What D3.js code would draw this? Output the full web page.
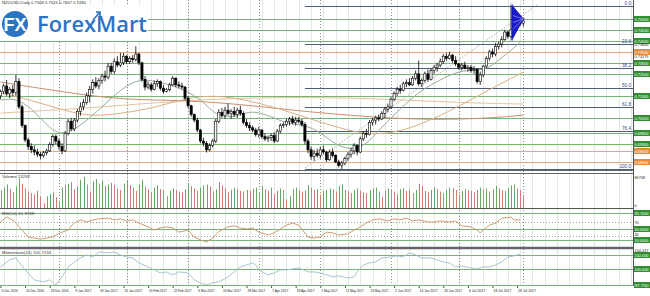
<!DOCTYPE html>
<html>
<head>
<meta charset="utf-8">
<script src="https://cdn.jsdelivr.net/npm/d3@7"></script>
<style>
  body { margin: 0; background: #fff; }
  svg { display: block; font-family: "Liberation Sans", Arial, sans-serif; }
</style>
</head>
<body>
<div id="chart"></div>
<script>
// Candles, daily NZDUSD
let opens = [.7150,.7170,.7195,.7160,.7180,.7165,.7215,.7100,.7015,.6950,.6920,.6905,.6895,.6885,.6878,.6892,.6900,.6930,.6965,.6945,
  .6920,.6900,.6980,.7035,.7000,.7040,.7080,.7100,.7120,.7150,.7180,.7210,.7195,.7220,.7240,.7235,.7285,.7260,.7305,.7290,
  .7300,.7330,.7305,.7320,.7315,.7340,.7300,.7225,.7190,.7200,.7180,.7205,.7215,.7185,.7170,.7178,.7200,.7230,.7200,.7195,
  .7190,.7140,.7105,.7065,.7040,.6995,.6945,.6935,.6905,.6925,.6945,.7035,.7075,.7060,.7085,.7070,.7080,.7065,.7085,.7070,
  .7030,.7015,.7005,.6995,.6975,.6995,.6965,.6955,.6960,.6970,.6945,.6990,.7015,.7020,.7035,.7045,.7030,.7040,.7035,.7020,
  .6945,.6905,.6875,.6890,.6880,.6905,.6895,.6860,.6895,.6880,.6850,.6835,.6845,.6865,.6885,.6900,.6925,.6895,.6955,.6980,
  .6975,.7030,.7040,.7050,.7045,.7070,.7090,.7100,.7135,.7160,.7180,.7175,.7205,.7210,.7200,.7230,.7250,.7205,.7220,.7250,
  .7225,.7265,.7280,.7290,.7305,.7330,.7320,.7335,.7310,.7295,.7280,.7290,.7275,.7280,.7265,.7270,.7215,.7245,.7285,.7320,
  .7350,.7340,.7375,.7385,.7405,.7440,.7420,.7450,.7480,.7500,.7480];
let highs = [.7178,.7205,.7222,.7190,.7200,.7245,.7230,.7110,.7020,.6960,.6935,.6925,.6910,.6895,.6900,.6910,.6940,.6975,.6975,.6955,
  .6935,.6990,.7045,.7050,.7050,.7090,.7120,.7135,.7165,.7195,.7225,.7235,.7230,.7250,.7265,.7300,.7300,.7320,.7330,.7345,
  .7345,.7335,.7330,.7335,.7375,.7345,.7305,.7240,.7215,.7210,.7220,.7225,.7220,.7200,.7185,.7210,.7240,.7235,.7215,.7210,
  .7195,.7150,.7110,.7070,.7050,.7000,.6960,.6945,.6935,.6955,.7045,.7090,.7095,.7100,.7115,.7090,.7100,.7095,.7105,.7080,
  .7045,.7030,.7015,.7005,.7010,.7000,.6980,.6970,.6980,.6985,.7000,.7025,.7030,.7045,.7055,.7060,.7055,.7055,.7045,.7030,
  .6955,.6920,.6905,.6910,.6920,.6925,.6900,.6905,.6910,.6885,.6860,.6855,.6875,.6895,.6915,.6935,.6930,.6965,.6990,.7000,
  .7040,.7050,.7060,.7065,.7080,.7100,.7115,.7145,.7170,.7190,.7200,.7215,.7225,.7230,.7240,.7265,.7310,.7230,.7260,.7270,
  .7275,.7290,.7300,.7320,.7340,.7345,.7350,.7340,.7330,.7300,.7300,.7305,.7290,.7290,.7285,.7275,.7260,.7290,.7330,.7360,
  .7365,.7390,.7395,.7420,.7450,.7445,.7558,.7500,.7510,.7515,.7505];
let lows = [.7135,.7158,.7150,.7140,.7150,.7150,.7090,.7005,.6940,.6905,.6890,.6880,.6872,.6862,.6870,.6880,.6895,.6920,.6930,.6905,
  .6885,.6895,.6970,.6990,.6990,.7030,.7060,.7085,.7110,.7120,.7160,.7185,.7180,.7205,.7215,.7225,.7250,.7250,.7280,.7280,
  .7290,.7295,.7295,.7300,.7305,.7290,.7215,.7175,.7180,.7170,.7175,.7190,.7175,.7160,.7165,.7170,.7195,.7190,.7185,.7180,
  .7130,.7095,.7055,.7030,.6985,.6935,.6920,.6893,.6898,.6915,.6935,.7025,.7050,.7045,.7060,.7045,.7055,.7050,.7060,.7020,
  .7005,.6990,.6985,.6965,.6960,.6955,.6945,.6940,.6945,.6935,.6940,.6980,.7005,.7010,.7015,.7020,.7015,.7025,.7010,.6930,
  .6890,.6860,.6855,.6870,.6865,.6885,.6850,.6855,.6870,.6845,.6825,.6818,.6835,.6855,.6870,.6885,.6880,.6890,.6945,.6960,
  .6970,.7015,.7020,.7035,.7040,.7050,.7075,.7090,.7125,.7150,.7160,.7170,.7190,.7195,.7195,.7220,.7195,.7190,.7210,.7215,
  .7220,.7250,.7260,.7280,.7295,.7310,.7315,.7300,.7285,.7270,.7265,.7270,.7260,.7255,.7250,.7205,.7200,.7235,.7275,.7310,
  .7325,.7330,.7360,.7370,.7400,.7410,.7410,.7440,.7460,.7467,.7465];
let closes = [.7170,.7195,.7160,.7180,.7165,.7215,.7100,.7015,.6950,.6920,.6905,.6895,.6885,.6878,.6892,.6900,.6930,.6965,.6945,.6920,
  .6900,.6980,.7035,.7000,.7040,.7080,.7100,.7120,.7150,.7180,.7210,.7195,.7220,.7240,.7235,.7285,.7260,.7305,.7290,.7300,
  .7330,.7305,.7320,.7315,.7340,.7300,.7225,.7190,.7200,.7180,.7205,.7215,.7185,.7170,.7178,.7200,.7230,.7200,.7195,.7190,
  .7140,.7105,.7065,.7040,.6995,.6945,.6935,.6905,.6925,.6945,.7035,.7075,.7060,.7085,.7070,.7080,.7065,.7085,.7070,.7030,
  .7015,.7005,.6995,.6975,.6995,.6965,.6955,.6960,.6970,.6945,.6990,.7015,.7020,.7035,.7045,.7030,.7040,.7035,.7020,.6945,
  .6905,.6875,.6890,.6880,.6905,.6895,.6860,.6895,.6880,.6850,.6835,.6845,.6865,.6885,.6900,.6925,.6895,.6955,.6980,.6975,
  .7030,.7040,.7050,.7045,.7070,.7090,.7100,.7135,.7160,.7180,.7175,.7205,.7210,.7200,.7230,.7250,.7205,.7220,.7250,.7225,
  .7265,.7280,.7290,.7305,.7330,.7320,.7335,.7310,.7295,.7280,.7290,.7275,.7280,.7265,.7270,.7215,.7245,.7285,.7320,.7350,
  .7340,.7375,.7385,.7405,.7440,.7420,.7450,.7480,.7500,.7480,.7490];

// Tick volume, thousands
let volumes = [45,52,60,48,40,55,75,62,50,42,38,35,44,30,12,30,36,40,28,18,
  52,58,62,66,48,55,72,80,60,42,68,74,62,70,56,60,64,58,50,46,
  62,70,58,52,44,60,72,55,48,40,52,58,48,46,30,44,50,46,42,40,
  48,62,56,50,44,52,58,60,55,42,48,66,58,50,40,46,52,48,44,42,
  46,44,50,52,38,56,48,44,52,36,44,50,46,22,30,48,52,46,42,44,
  58,52,46,48,34,44,46,50,48,42,56,60,46,44,38,46,50,44,40,38,
  46,50,52,42,28,44,50,46,42,36,48,50,44,46,38,46,62,56,44,40,
  46,52,48,42,38,46,52,50,46,34,44,48,46,44,40,46,52,48,50,42,
  48,56,50,46,44,52,58,60,50,46,30];

// RSI and Momentum, [bar, value]
let rsiPoints = [[0,70],[2,84],[4,76],[5,67],[7,47],[9,27],[11,24],[13,21],[15,24],[17,27],[18,33],[20,41],[22,47],[23,59],[24,67],
  [26,76],[28,70],[30,76],[32,79],[35,81],[37,76],[39,79],[41,73],[43,76],[45,67],[48,56],[50,47],[52,53],[54,56],[56,53],
  [58,41],[61,47],[63,27],[65,19],[67,13],[69,24],[71,43],[74,56],[76,59],[78,53],[80,50],[82,53],[84,41],[87,33],[89,39],
  [91,50],[93,61],[95,67],[97,61],[100,27],[102,24],[104,27],[106,41],[108,39],[110,33],[113,36],[115,47],[117,56],[119,67],
  [121,76],[123,79],[126,73],[128,79],[130,76],[132,81],[134,73],[136,76],[139,70],[141,70],[143,73],[146,70],[148,73],
  [150,59],[153,56],[155,47],[156,39],[157,47],[159,61],[161,67],[163,81],[166,84],[167,76],[169,76]];
let momPoints = [[0,100.29],[3,101.29],[5,101.57],[8,99.86],[11,98.43],[14,98.14],[16,98.43],[18,97.71],[20,98.86],[22,100.29],
  [24,101.0],[26,101.57],[28,102.0],[30,101.71],[32,102.43],[35,102.29],[37,102.43],[39,102.0],[41,101.71],[43,101.57],
  [45,100.86],[48,100.29],[50,99.86],[52,99.43],[54,99.57],[56,99.14],[58,99.57],[61,99.43],[63,98.43],[65,98.0],[67,97.71],
  [69,98.0],[71,98.14],[74,98.86],[76,99.57],[78,100.29],[80,100.57],[82,100.86],[83,100.57],[84,99.86],[87,99.14],[89,99.43],
  [91,99.86],[93,99.86],[95,100.0],[97,100.14],[100,99.57],[102,99.57],[104,99.43],[106,99.14],[108,98.86],[110,99.0],
  [113,98.71],[115,98.86],[116,99.57],[118,100.57],[120,100.86],[122,101.0],[124,101.57],[127,101.71],[129,101.86],
  [131,101.71],[133,102.29],[135,102.0],[137,101.57],[140,101.57],[142,101.29],[144,101.0],[146,100.86],[148,100.29],
  [150,100.43],[153,100.14],[155,100.0],[157,100.29],[159,100.29],[161,100.57],[163,101.0],[165,101.71],[167,101.86],[169,102.14]];

// Moving averages, [bar, price]
let maFast = [[0,.7131],[5,.7140],[10,.7095],[15,.7018],[19,.6972],[24,.6995],[29,.7049],[34,.7113],[39,.7177],[44,.7222],
  [49,.7222],[54,.7204],[58,.7186],[63,.7154],[67,.7109],[70,.7063],[75,.7049],[80,.7077],[84,.7077],[89,.7049],[94,.7022],
  [99,.7018],[104,.6986],[109,.6927],[114,.6904],[119,.6927],[123,.6995],[128,.7063],[133,.7131],[138,.7186],[143,.7222],
  [148,.7258],[153,.7267],[158,.7267],[162,.7313],[167,.7367],[169,.7395]];
let maMid = [[0,.7163],[10,.7131],[20,.7086],[30,.7054],[40,.7072],[50,.7095],[60,.7140],[70,.7154],[80,.7131],[90,.7095],
  [100,.7049],[110,.7004],[120,.6972],[130,.6986],[140,.7040],[150,.7109],[160,.7186],[170,.7258]];
let maSlow = [[0,.7213],[20,.7168],[40,.7131],[60,.7131],[80,.7109],[100,.7077],[120,.7054],[140,.7040],[160,.7049],[170,.7063]];
let maSlow2 = [[0,.7072],[30,.7095],[60,.7131],[90,.7145],[120,.7140],[150,.7118],[170,.7113]];

// Horizontal levels and Fibonacci
let greenLevels = [0.7500, 0.7450, 0.7400, 0.7300, 0.7250, 0.7150, 0.7050, 0.6980, 0.6930];
let orangeLevels = [0.7350, 0.6900, 0.6850];
let fibRatios = [0, 23.6, 38.2, 50, 61.8, 76.4, 100];
let fibHigh = 0.7558, fibLow = 0.6818, fibStartBar = 99;
let channelLine = [[99, 0.6823], [174.5, 0.7563]];
let triangle = [[166.3, 0.7562], [170, 0.7499], [166.3, 0.7404]];

let rsiLevels = [95.7, 50, 20];
let rsiDotted = [70, 30];
let momLevels = [102.0, 100.0, 97.75];

// Time axis labels (bar index, text)
let dateTicks = [0,8,16,24,32,40,48,56,64,72,80,88,96,104,112,120,128,136,144,152,160,168];
let dateLabels = ['6 Dec 2016','16 Dec 2016','28 Dec 2016','9 Jan 2017','19 Jan 2017','31 Jan 2017','10 Feb 2017',
  '22 Feb 2017','6 Mar 2017','16 Mar 2017','28 Mar 2017','7 Apr 2017','19 Apr 2017','1 May 2017','11 May 2017',
  '23 May 2017','2 Jun 2017','14 Jun 2017','26 Jun 2017','6 Jul 2017','18 Jul 2017','28 Jul 2017'];
let monthStarts = [19, 41, 61, 84, 104, 127, 149, 170];

// SVG setup
let svgWidth = 650;
let svgHeight = 296;
let plotRight = 633;
let panels = {
  main: [0, 170],
  vol: [173, 208],
  rsi: [210, 247],
  mom: [249, 285]
};

let svg = d3.select('#chart').append('svg')
  .attr('width', svgWidth)
  .attr('height', svgHeight);

svg.append('rect').attr('width', svgWidth).attr('height', svgHeight).attr('fill', '#fff');

// Scales
let x = d3.scaleLinear().domain([0, 168]).range([0.5, 517.1]);
let yP = d3.scaleLinear().domain([fibLow, fibHigh]).range([169, 6]);
let yV = d3.scaleLinear().domain([0, 86.748]).range([panels.vol[1], panels.vol[0] + 1]);
let yR = d3.scaleLinear().domain([0, 100]).range([246.5, 211.5]);
let yM = d3.scaleLinear().domain([97.7, 102.85]).range([285, 249]);

// clip paths
let defs = svg.append('defs');
Object.keys(panels).forEach(k => {
  defs.append('clipPath').attr('id', 'clip-' + k)
    .append('rect').attr('x', 0).attr('y', panels[k][0])
    .attr('width', plotRight).attr('height', panels[k][1] - panels[k][0]);
});

// vertical grid (every 4 bars) and month separators
let gridBars = d3.range(1, 206, 4).filter(i => x(i) < plotRight);
svg.append('g').selectAll('line').data(gridBars).join('line')
  .attr('x1', i => Math.round(x(i)) + 0.5).attr('x2', i => Math.round(x(i)) + 0.5)
  .attr('y1', 0).attr('y2', 286)
  .attr('stroke', '#e3e8e3').attr('stroke-width', 1);

svg.append('g').selectAll('line').data(monthStarts).join('line')
  .attr('x1', i => Math.round(x(i)) + 0.5).attr('x2', i => Math.round(x(i)) + 0.5)
  .attr('y1', 0).attr('y2', 286)
  .attr('stroke', '#777').attr('stroke-width', 0.8)
  .attr('stroke-dasharray', '1,2');

// ---------- main panel ----------
let main = svg.append('g').attr('clip-path', 'url(#clip-main)');

main.selectAll('line.green').data(greenLevels).join('line')
  .attr('x1', 0).attr('x2', plotRight)
  .attr('y1', d => Math.round(yP(d)) + 0.5).attr('y2', d => Math.round(yP(d)) + 0.5)
  .attr('stroke', '#78b478').attr('stroke-width', 1);

main.selectAll('line.orange').data(orangeLevels).join('line')
  .attr('x1', 0).attr('x2', plotRight)
  .attr('y1', d => Math.round(yP(d)) + 0.5).attr('y2', d => Math.round(yP(d)) + 0.5)
  .attr('stroke', '#e4a97c').attr('stroke-width', 1);

let fibPrice = r => fibHigh - (fibHigh - fibLow) * r / 100;
main.selectAll('line.fib').data(fibRatios).join('line')
  .attr('x1', x(fibStartBar)).attr('x2', plotRight)
  .attr('y1', r => Math.round(yP(fibPrice(r))) + 0.5).attr('y2', r => Math.round(yP(fibPrice(r))) + 0.5)
  .attr('stroke', '#4f5d75').attr('stroke-width', 1.2);

main.selectAll('text.fib').data(fibRatios).join('text')
  .attr('x', plotRight - 2).attr('y', r => yP(fibPrice(r)) - 1)
  .attr('text-anchor', 'end').attr('font-size', 4.6).attr('fill', '#3a3f8f')
  .text(r => r.toFixed(1));

// moving averages
let maLine = d3.line().x(d => x(d[0])).y(d => yP(d[1])).curve(d3.curveBasis);
[[maSlow2, '#e6c29c'], [maSlow, '#c98e6e'], [maMid, '#d9b088'], [maFast, '#98ae98']].forEach(([d, c]) => {
  main.append('path').attr('d', maLine(d)).attr('fill', 'none')
    .attr('stroke', c).attr('stroke-width', 1);
});

// channel line
main.append('line')
  .attr('x1', x(channelLine[0][0])).attr('y1', yP(channelLine[0][1]))
  .attr('x2', x(channelLine[1][0])).attr('y2', yP(channelLine[1][1]))
  .attr('stroke', '#9a9a9a').attr('stroke-width', 0.8).attr('stroke-dasharray', '1.5,1.5');

// candles
let bars = d3.range(closes.length);
main.selectAll('line.wick').data(bars).join('line')
  .attr('x1', i => x(i)).attr('x2', i => x(i))
  .attr('y1', i => yP(highs[i])).attr('y2', i => yP(lows[i]))
  .attr('stroke', '#000').attr('stroke-width', 0.8);

main.selectAll('rect.body').data(bars).join('rect')
  .attr('x', i => x(i) - 1.1).attr('width', 2.2)
  .attr('y', i => yP(Math.max(opens[i], closes[i])))
  .attr('height', i => Math.max(0.8, Math.abs(yP(opens[i]) - yP(closes[i]))))
  .attr('fill', i => closes[i] >= opens[i] ? '#fff' : '#000')
  .attr('stroke', '#000').attr('stroke-width', 0.6);

// triangle
main.append('path')
  .attr('d', d3.line().x(d => x(d[0])).y(d => yP(d[1]))(triangle) + 'Z')
  .attr('fill', '#1b1bcc').attr('stroke', '#0a0a90').attr('stroke-width', 0.8);
main.selectAll('line.fan').data([0.3, 0.5, 0.7]).join('line')
  .attr('x1', x(triangle[1][0])).attr('y1', yP(triangle[1][1]))
  .attr('x2', x(triangle[0][0]) + 1)
  .attr('y2', f => yP(triangle[0][1] + (triangle[2][1] - triangle[0][1]) * f))
  .attr('stroke', '#c8c8ff').attr('stroke-width', 0.5);
main.selectAll('circle.vertex').data(triangle).join('circle')
  .attr('cx', d => x(d[0])).attr('cy', d => yP(d[1])).attr('r', 1.3)
  .attr('fill', 'none').attr('stroke', '#6a6ad8').attr('stroke-width', 0.6);

// ---------- volume ----------
let vol = svg.append('g').attr('clip-path', 'url(#clip-vol)');
vol.selectAll('line').data(bars).join('line')
  .attr('x1', i => Math.round(x(i)) + 0.5).attr('x2', i => Math.round(x(i)) + 0.5)
  .attr('y1', yV(0)).attr('y2', i => yV(volumes[i]))
  .attr('stroke', i => (i === 0 || volumes[i] >= volumes[i - 1]) ? '#6aa66a' : '#d07a7a')
  .attr('stroke-width', 1);

// ---------- RSI ----------
let rsi = svg.append('g').attr('clip-path', 'url(#clip-rsi)');
rsi.selectAll('line.lvl').data(rsiLevels).join('line')
  .attr('x1', 0).attr('x2', plotRight)
  .attr('y1', d => Math.round(yR(d)) + 0.5).attr('y2', d => Math.round(yR(d)) + 0.5)
  .attr('stroke', '#78b478');
rsi.selectAll('line.dot').data(rsiDotted).join('line')
  .attr('x1', 0).attr('x2', plotRight)
  .attr('y1', d => Math.round(yR(d)) + 0.5).attr('y2', d => Math.round(yR(d)) + 0.5)
  .attr('stroke', '#888').attr('stroke-width', 0.8).attr('stroke-dasharray', '1,2');
rsi.append('path')
  .attr('d', d3.line().x(d => x(d[0])).y(d => yR(d[1]))(rsiPoints))
  .attr('fill', 'none').attr('stroke', '#c9906a').attr('stroke-width', 0.9);

// ---------- Momentum ----------
let mom = svg.append('g').attr('clip-path', 'url(#clip-mom)');
mom.selectAll('line.lvl').data(momLevels).join('line')
  .attr('x1', 0).attr('x2', plotRight)
  .attr('y1', d => Math.round(yM(d)) + 0.5).attr('y2', d => Math.round(yM(d)) + 0.5)
  .attr('stroke', '#78b478');
mom.append('path')
  .attr('d', d3.line().x(d => x(d[0])).y(d => yM(d[1]))(momPoints))
  .attr('fill', 'none').attr('stroke', '#9fbccb').attr('stroke-width', 0.9);

// ---------- borders ----------
let borders = [[170.5, 1, '#666'], [173.5, 1, '#666'], [208.5, 1.2, '#555'], [248, 2.6, '#666'], [285.5, 1, '#78b478']];
svg.append('g').selectAll('line').data(borders).join('line')
  .attr('x1', 0).attr('x2', plotRight).attr('y1', d => d[0]).attr('y2', d => d[0])
  .attr('stroke', d => d[2]).attr('stroke-width', d => d[1]);
svg.append('line').attr('x1', plotRight + 0.5).attr('x2', plotRight + 0.5)
  .attr('y1', 0).attr('y2', 286).attr('stroke', '#555');

// ---------- right axis labels ----------
let fmt = d3.format('.5f');
let tags = svg.append('g');
let tag = (yy, c, t) => {
  yy = Math.round(yy);
  tags.append('rect').attr('x', plotRight + 1).attr('y', yy - 3).attr('width', 17).attr('height', 6).attr('fill', c);
  tags.append('text').attr('x', plotRight + 1.5).attr('y', yy + 1.6).attr('font-size', 4.2)
    .attr('fill', '#fff').attr('textLength', 14).attr('lengthAdjust', 'spacingAndGlyphs').text(t);
};
greenLevels.forEach(v => tag(yP(v), '#2f8f2f', fmt(v)));
orangeLevels.forEach(v => tag(yP(v), '#e38b3c', fmt(v)));
rsiLevels.forEach(v => tag(yR(v), '#2f8f2f', v.toFixed(4)));
momLevels.forEach(v => tag(yM(v), '#2f8f2f', v.toFixed(3)));

let smallTxt = (tx, ty, t, c, fs) => svg.append('text').attr('x', tx).attr('y', ty)
  .attr('font-size', fs || 4.2).attr('fill', c || '#222').text(t);
let axisTxt = (ty, t) => smallTxt(plotRight + 1.5, ty, t, '#222')
  .attr('textLength', Math.min(14, t.length * 2.1)).attr('lengthAdjust', 'spacingAndGlyphs');
axisTxt(yP(0.7382) + 1.5, '0.73800');
axisTxt(yP(0.7330) + 1.5, '0.73275');
axisTxt(179, '86748');
axisTxt(207, '0');
axisTxt(yR(70) + 1.5, '70');
axisTxt(yR(30) - 0.5, '30');
axisTxt(252, '104.427');

// ---------- time axis ----------
let xAxis = d3.axisBottom(x)
  .tickValues(dateTicks)
  .tickFormat((d, i) => dateLabels[i])
  .tickSize(2)
  .tickPadding(1);
let axisG = svg.append('g').attr('transform', 'translate(0, 286)').call(xAxis);
axisG.select('.domain').remove();
axisG.selectAll('line').attr('stroke', '#555');
axisG.selectAll('text').attr('font-size', 4.2).attr('fill', '#222')
  .attr('text-anchor', 'start').attr('dx', 0.5)
  .attr('textLength', (d, i) => dateLabels[i].length * 1.62)
  .attr('lengthAdjust', 'spacingAndGlyphs');

// ---------- panel captions ----------
smallTxt(2, 178, 'Volume 13292', '#333', 4.4);
smallTxt(2, 215, 'RSI(14) 61.9739', '#333', 4.4);
smallTxt(2, 254, 'Momentum(14) 101.7216', '#333', 4.4);

// ---------- logo ----------
let logo = svg.append('g');
logo.append('rect').attr('x', 0).attr('y', 5).attr('width', 148).attr('height', 36).attr('fill', '#fff');
logo.append('circle').attr('cx', 15).attr('cy', 24).attr('r', 13).attr('fill', '#2c73c4');
logo.append('text').attr('x', 15).attr('y', 31).attr('text-anchor', 'middle')
  .attr('font-size', 18).attr('font-weight', 'bold').attr('fill', '#fff').text('FX');
logo.append('text').attr('x', 37).attr('y', 32)
  .attr('font-family', '"Open Sans", sans-serif').attr('font-size', 21).attr('font-weight', 600)
  .attr('fill', '#2c73c4').attr('textLength', 110).attr('lengthAdjust', 'spacingAndGlyphs')
  .text('ForexMart');
logo.append('path').attr('d', 'M93,20 L100,12 M96,12 L100,12 L100,16')
  .attr('fill', 'none').attr('stroke', '#2c73c4').attr('stroke-width', 1.6);
smallTxt(2, 4, 'NZDUSD,Daily  0.7509 0.7515 0.7467 0.7480', '#333', 4.2);
</script>
</body>
</html>
